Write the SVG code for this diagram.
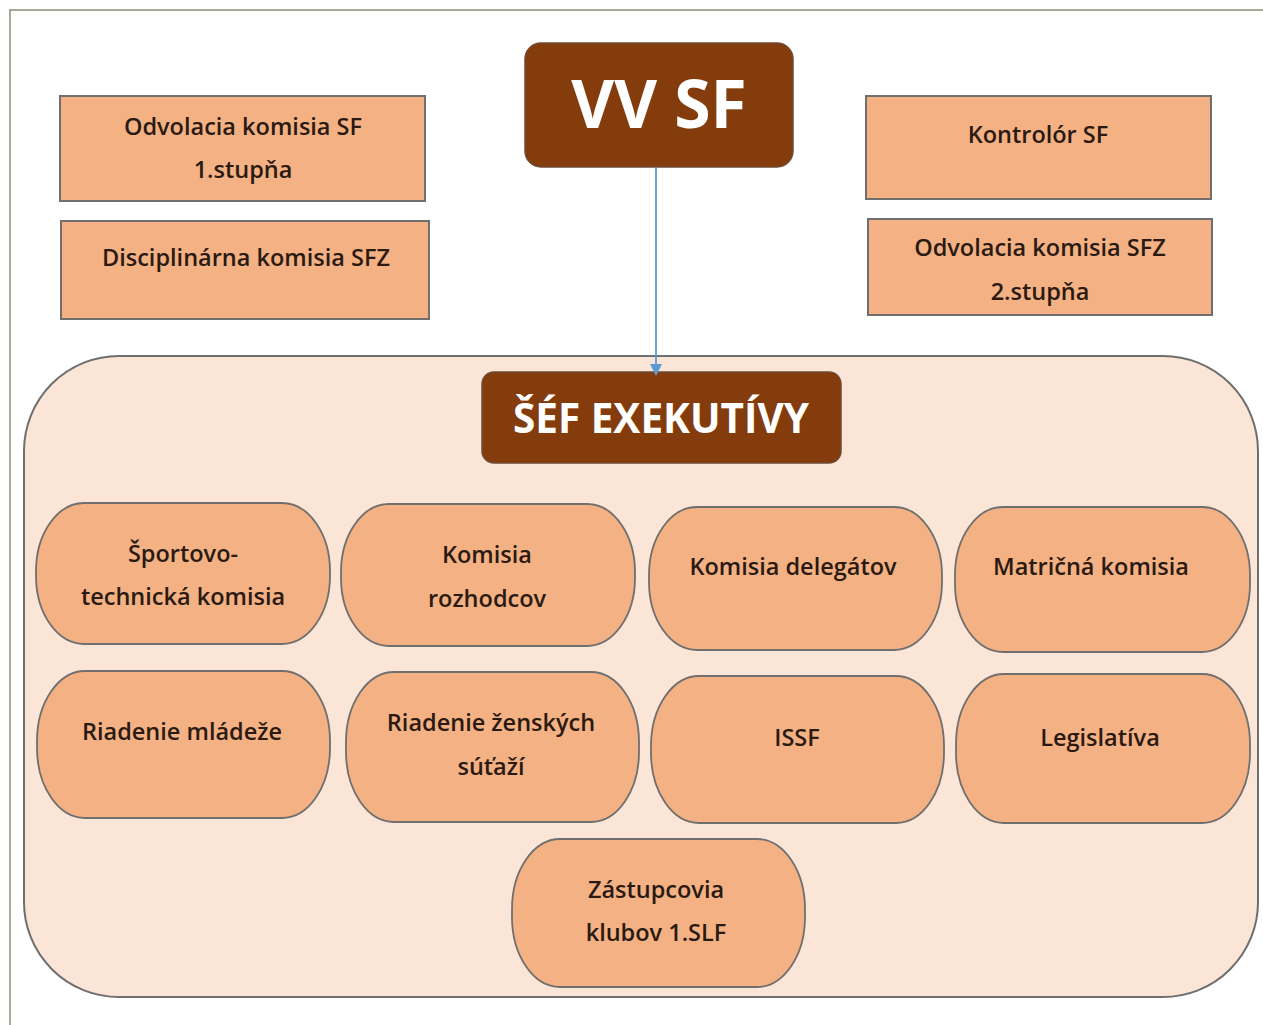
<svg xmlns="http://www.w3.org/2000/svg" width="1263" height="1025" viewBox="0 0 1263 1025">
<defs>
<style>
.box{fill:#F4B183;stroke:#6f6f6f;stroke-width:2}
.pill{fill:#F4B183;stroke:#6f6f6f;stroke-width:1.8}
.head{fill:#843C0C;stroke:#6f4a35;stroke-width:1.5}
.t{font-family:"Open Sans","Liberation Sans",sans-serif;font-size:23.5px;font-weight:600;fill:#2a1a12;text-anchor:middle}
.h{font-family:"Open Sans","Liberation Sans",sans-serif;font-weight:bold;fill:#ffffff;text-anchor:middle}
.conn{stroke:#5B9BD5;stroke-width:1.8;fill:none}
</style>
<marker id="arr" markerWidth="12" markerHeight="12" refX="6" refY="6" orient="auto" markerUnits="userSpaceOnUse">
<path d="M0,0 L12,6 L0,12 z" fill="#5B9BD5"/>
</marker>
</defs>
<rect width="1263" height="1025" fill="#ffffff"/>
<rect x="10" y="10" width="1300" height="1100" fill="none" stroke="#a3ab95" stroke-width="2"/>

<g id="container">
<rect x="24" y="356" width="1234" height="641" rx="95" ry="95" fill="#FBE5D6" stroke="#6f6f6f" stroke-width="2"/>
</g>

<g id="n-odvolacia1">
<rect class="box" x="60" y="96" width="365" height="105"/>
<text class="t" x="243" y="135">Odvolacia komisia SF</text>
<text class="t" x="243" y="178">1.stupňa</text>
</g>
<g id="n-disciplinarna">
<rect class="box" x="61" y="221" width="368" height="98"/>
<text class="t" x="246" y="266">Disciplinárna komisia SFZ</text>
</g>
<g id="n-kontrolor">
<rect class="box" x="866" y="96" width="345" height="103"/>
<text class="t" x="1038" y="143">Kontrolór SF</text>
</g>
<g id="n-odvolacia2">
<rect class="box" x="868" y="219" width="344" height="96"/>
<text class="t" x="1040" y="256">Odvolacia komisia SFZ</text>
<text class="t" x="1040" y="300">2.stupňa</text>
</g>

<g id="n-vvsf">
<rect class="head" x="525" y="43" width="268" height="124" rx="16" ry="16"/>
<text class="h" x="659" y="128" font-size="66">VV SF</text>
</g>
<g id="n-sef">
<rect class="head" x="482" y="372" width="359" height="91" rx="12" ry="12"/>
<text class="h" x="661" y="433" font-size="40.5">ŠÉF EXEKUTÍVY</text>
</g>

<g id="connectors">
<line class="conn" x1="656" y1="167" x2="656" y2="370" marker-end="url(#arr)"/>
</g>

<g id="n-sportovo">
<rect class="pill" x="36" y="503" width="294" height="141" rx="48" ry="68"/>
<text class="t" x="183" y="562">Športovo-</text>
<text class="t" x="183" y="605">technická komisia</text>
</g>
<g id="n-rozhodcov">
<rect class="pill" x="341" y="504" width="294" height="142" rx="48" ry="68"/>
<text class="t" x="487" y="563">Komisia</text>
<text class="t" x="487" y="607">rozhodcov</text>
</g>
<g id="n-delegatov">
<rect class="pill" x="649" y="507" width="293" height="143" rx="48" ry="68"/>
<text class="t" x="793" y="575">Komisia delegátov</text>
</g>
<g id="n-matricna">
<rect class="pill" x="955" y="507" width="295" height="145" rx="48" ry="68"/>
<text class="t" x="1091" y="575">Matričná komisia</text>
</g>
<g id="n-mladez">
<rect class="pill" x="37" y="671" width="293" height="147" rx="48" ry="70"/>
<text class="t" x="182" y="740">Riadenie mládeže</text>
</g>
<g id="n-zenske">
<rect class="pill" x="346" y="672" width="293" height="150" rx="48" ry="70"/>
<text class="t" x="491" y="731">Riadenie ženských</text>
<text class="t" x="491" y="775">súťaží</text>
</g>
<g id="n-issf">
<rect class="pill" x="651" y="676" width="293" height="147" rx="48" ry="70"/>
<text class="t" x="797" y="746">ISSF</text>
</g>
<g id="n-legislativa">
<rect class="pill" x="956" y="674" width="294" height="149" rx="48" ry="70"/>
<text class="t" x="1100" y="746">Legislatíva</text>
</g>
<g id="n-zastupcovia">
<rect class="pill" x="512" y="839" width="293" height="148" rx="48" ry="70"/>
<text class="t" x="656" y="898">Zástupcovia</text>
<text class="t" x="656" y="941">klubov 1.SLF</text>
</g>
</svg>
